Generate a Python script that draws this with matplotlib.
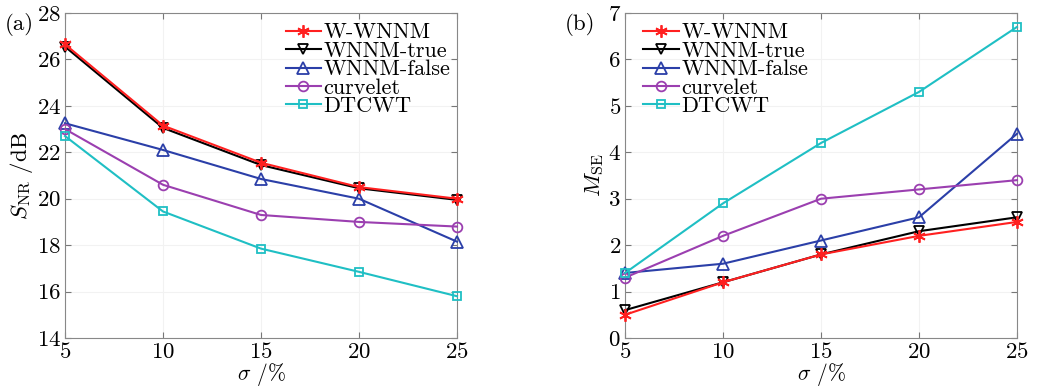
import matplotlib
matplotlib.use("Agg")
import matplotlib.pyplot as plt

plt.rcParams["font.family"] = ["cmr10", "DejaVu Serif"]
plt.rcParams["mathtext.fontset"] = "cm"
plt.rcParams["axes.formatter.use_mathtext"] = True

SIGMA = [5, 10, 15, 20, 25]
NAMES = ["W-WNNM", "WNNM-true", "WNNM-false", "curvelet", "DTCWT"]

SNR_W_WNNM = [26.65, 23.15, 21.55, 20.5, 20.0]
SNR_WNNM_TRUE = [26.55, 23.05, 21.45, 20.45, 19.95]
SNR_WNNM_FALSE = [23.25, 22.1, 20.85, 20.0, 18.15]
SNR_CURVELET = [23.0, 20.6, 19.3, 19.0, 18.8]
SNR_DTCWT = [22.7, 19.45, 17.85, 16.85, 15.8]

MSE_W_WNNM = [0.5, 1.2, 1.8, 2.2, 2.5]
MSE_WNNM_TRUE = [0.6, 1.2, 1.8, 2.3, 2.6]
MSE_WNNM_FALSE = [1.4, 1.6, 2.1, 2.6, 4.4]
MSE_CURVELET = [1.3, 2.2, 3.0, 3.2, 3.4]
MSE_DTCWT = [1.4, 2.9, 4.2, 5.3, 6.7]

COLORS = ["#ff2020", "#000000", "#2b3fa8", "#9b3fb0", "#1fbfc4"]
MARKERS = [(6, 2, 0), "v", "^", "o", "s"]
MSIZE = [9, 7, 8, 7, 6]

fig = plt.figure(figsize=(10.4, 3.9), dpi=100)
ax_a = fig.add_axes([65 / 1040, 1 - 338 / 390, 392 / 1040, 325 / 390])
ax_b = fig.add_axes([625 / 1040, 1 - 338 / 390, 392 / 1040, 325 / 390])


def draw(ax, series, ylim, yticks, ylabel, loc, anchor):
    for i, ys in enumerate(series):
        ax.plot(SIGMA, ys, color=COLORS[i], marker=MARKERS[i], ms=MSIZE[i],
                mfc="none", mew=1.3, lw=1.5, label=NAMES[i], clip_on=False,
                zorder=3 + (i == 0))
    ax.set_xlim(5, 25)
    ax.set_ylim(*ylim)
    ax.set_xticks(SIGMA)
    ax.set_yticks(yticks)
    ax.grid(True, color="#f2f2f2", lw=0.8)
    ax.tick_params(direction="in", top=True, right=True, labelsize=16.5,
                   length=4, color="#777777", pad=3)
    for s in ax.spines.values():
        s.set_color("#888888")
        s.set_linewidth(0.8)
    ax.set_xlabel(r"$\sigma$ /%", fontsize=15.5, labelpad=-1)
    ax.set_ylabel(ylabel, fontsize=16.5, labelpad=1)
    ax.legend(loc=loc, bbox_to_anchor=anchor, frameon=False, fontsize=16,
              handlelength=1.6, handletextpad=0.1, labelspacing=-0.05,
              borderaxespad=0.0, borderpad=0.3)


draw(ax_a, [SNR_W_WNNM, SNR_WNNM_TRUE, SNR_WNNM_FALSE, SNR_CURVELET, SNR_DTCWT],
     (14, 28), range(14, 29, 2), r"$S_{\rm NR}$ /dB", "upper right", (1.0, 0.99))
draw(ax_b, [MSE_W_WNNM, MSE_WNNM_TRUE, MSE_WNNM_FALSE, MSE_CURVELET, MSE_DTCWT],
     (0, 7), range(0, 8), r"$M_{\rm SE}$", "upper left", (0.03, 0.99))

fig.text(5 / 1040, 1 - 25 / 390, "(a)", fontsize=16.5, va="center")
fig.text(565 / 1040, 1 - 25 / 390, "(b)", fontsize=16.5, va="center")

fig.savefig("out.png", dpi=100, facecolor="white")
